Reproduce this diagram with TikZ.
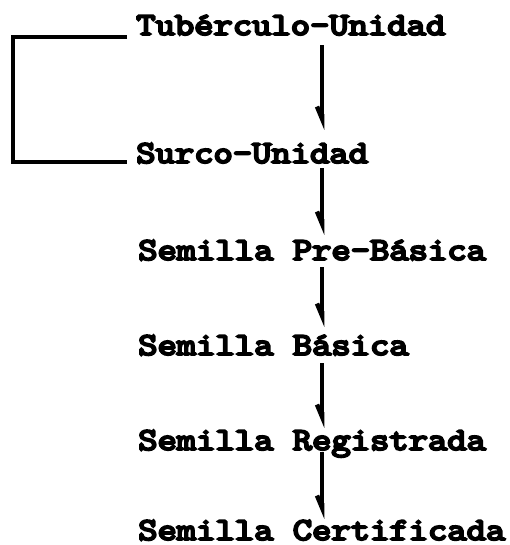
\documentclass[tikz,border=0pt]{standalone}
\usepackage{fontspec}
\newfontfamily\maquina{lmmono10-regular}[Extension = .otf, FakeBold = 6]
\usetikzlibrary{arrows.meta}
\usetikzlibrary{positioning}
\tikzset{etapa/.style = {anchor = base west, inner sep = 0, text height = 20pt, text depth = 0pt,
                         font = \maquina\bfseries\fontsize{32}{36}\selectfont, xscale = 1.15}}
\tikzset{flecha/.style = {line width = 4.5pt, -{Straight Barb[right, length = 12pt, width = 10pt]}}}
\tikzset{corchete/.style = {line width = 4pt}}

\begin{document}
\begin{tikzpicture}[x = 1pt, y = -1pt]
      \useasboundingbox (0, 0) rectangle (510, 545);
      \node [etapa] (tub) at (136, 35) {Tubérculo-Unidad};
      \node [etapa] (surco) at (136, 163) {Surco-Unidad};
      \node [etapa] (pre) at (138, 260) {Semilla Pre-Básica};
      \node [etapa] (bas) at (138, 355) {Semilla Básica};
      \node [etapa] (reg) at (138, 450) {Semilla Registrada};
      \node [etapa] (cert) at (138, 540) {Semilla Certificada};
      \coordinate (eje) at (322, 0);
      \coordinate (brk) at (13, 0);
      \draw [corchete] ([shift = {(-9, 2)}] tub.south west) -| ([shift = {(0, -1)}] brk |- surco.south) -- ([shift = {(-9, -1)}] surco.south west);
      \draw [flecha, shorten <= 10pt, shorten >= 13pt] (eje |- tub.south) -- (eje |- surco.north);
      \draw [flecha, shorten <= 5pt, shorten >= 5pt] (eje |- surco.south) -- (eje |- pre.north);
      \draw [flecha, shorten <= 7pt, shorten >= 8pt] (eje |- pre.south) -- (eje |- bas.north);
      \draw [flecha, shorten <= 8pt, shorten >= 2pt] (eje |- bas.south) -- (eje |- reg.north);
      \draw [flecha, shorten <= 2pt, shorten >= 1pt] (eje |- reg.south) -- (eje |- cert.north);
    \end{tikzpicture}
\end{document}
